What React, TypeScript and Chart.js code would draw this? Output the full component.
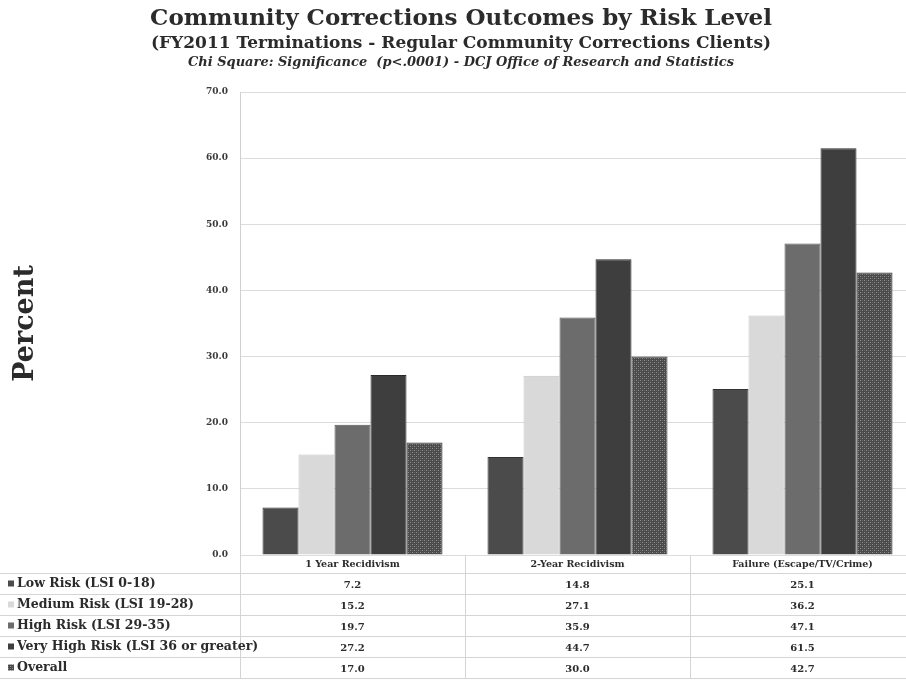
import React, { useEffect, useRef } from "react";
import { Chart, registerables } from "chart.js";
Chart.register(...registerables);

const categories = ["1 Year Recidivism", "2-Year Recidivism", "Failure (Escape/TV/Crime)"];
const seriesNames = [
  "Low Risk (LSI 0-18)",
  "Medium Risk (LSI 19-28)",
  "High Risk (LSI 29-35)",
  "Very High Risk (LSI 36 or greater)",
  "Overall",
];
const lowRisk = [7.2, 14.8, 25.1];
const mediumRisk = [15.2, 27.1, 36.2];
const highRisk = [19.7, 35.9, 47.1];
const veryHighRisk = [27.2, 44.7, 61.5];
const overall = [17.0, 30.0, 42.7];
const yTicks = [0, 10, 20, 30, 40, 50, 60, 70];

const titleLines = [
  "Community Corrections Outcomes by Risk Level",
  "(FY2011 Terminations - Regular Community Corrections Clients)",
  "Chi Square: Significance  (p<.0001) - DCJ Office of Research and Statistics",
];

const SERIF = "'DejaVu Serif', 'Liberation Serif', serif";
const CANVAS_W = 916;
const CANVAS_H = 680;

function makePattern(): CanvasPattern | string {
  const c = document.createElement("canvas");
  c.width = 4;
  c.height = 4;
  const g = c.getContext("2d");
  if (!g) return "#555";
  g.fillStyle = "#4a4a4a";
  g.fillRect(0, 0, 4, 4);
  g.fillStyle = "#909090";
  g.fillRect(0, 0, 1, 1);
  g.fillRect(2, 2, 1, 1);
  g.fillStyle = "#676767";
  g.fillRect(2, 0, 1, 1);
  g.fillRect(0, 2, 1, 1);
  const p = g.createPattern(c, "repeat");
  return p || "#555";
}

export default function App() {
  const ref = useRef<HTMLCanvasElement>(null);

  useEffect(() => {
    document.body.style.margin = "0";
    const canvas = ref.current;
    if (!canvas) return;
    const pattern = makePattern();
    const colors: any[] = ["#4b4b4b", "#d9d9d9", "#6c6c6c", "#3e3e3e", pattern];
    const borders = ["#333", "#c4c4c4", "#555", "#2a2a2a", "#3a3a3a"];
    const values = [lowRisk, mediumRisk, highRisk, veryHighRisk, overall];

    const headerPlugin = {
      id: "headerAndTable",
      afterDraw(chart: any) {
        const ctx = chart.ctx as CanvasRenderingContext2D;
        const ca = chart.chartArea;
        const xs = chart.scales.x;
        ctx.save();
        // titles
        ctx.fillStyle = "#2b2b2b";
        ctx.textAlign = "center";
        ctx.textBaseline = "middle";
        ctx.font = `bold 23px ${SERIF}`;
        ctx.fillText(titleLines[0], 461, 19);
        ctx.font = `bold 17px ${SERIF}`;
        ctx.fillText(titleLines[1], 461, 44);
        ctx.font = `italic bold 13px ${SERIF}`;
        ctx.fillText(titleLines[2], 461, 63);

        // table
        const headerBottom = ca.bottom + 18;
        const rowH = 21;
        const n = seriesNames.length;
        ctx.strokeStyle = "#d4d4d4";
        ctx.lineWidth = 1;
        for (let i = 0; i <= n; i++) {
          const y = Math.round(headerBottom + i * rowH) + 0.5;
          ctx.beginPath();
          ctx.moveTo(0, y);
          ctx.lineTo(CANVAS_W, y);
          ctx.stroke();
        }
        const catW = (ca.right - ca.left) / categories.length;
        for (let j = 0; j <= categories.length; j++) {
          const x = Math.round(ca.left + j * catW) + 0.5;
          ctx.beginPath();
          ctx.moveTo(x, ca.bottom);
          ctx.lineTo(x, headerBottom + n * rowH);
          ctx.stroke();
        }
        for (let i = 0; i < n; i++) {
          const cy = headerBottom + i * rowH + rowH / 2;
          ctx.fillStyle = colors[i];
          ctx.fillRect(8, cy - 3, 6, 6);
          ctx.fillStyle = "#2b2b2b";
          ctx.textAlign = "left";
          ctx.font = `bold 12.5px ${SERIF}`;
          ctx.fillText(seriesNames[i], 17, cy);
          ctx.textAlign = "center";
          ctx.font = `bold 10px ${SERIF}`;
          for (let j = 0; j < categories.length; j++) {
            ctx.fillText(values[i][j].toFixed(1), xs.getPixelForValue(j), cy + 2);
          }
        }
        ctx.restore();
      },
    };

    const chart = new Chart(canvas, {
      type: "bar",
      data: {
        labels: categories,
        datasets: seriesNames.map((name, i) => ({
          label: name,
          data: values[i],
          backgroundColor: colors[i],
          borderColor: borders[i],
          borderWidth: 1,
          categoryPercentage: 0.8,
          barPercentage: 1.0,
        })),
      },
      options: {
        responsive: false,
        animation: false,
        devicePixelRatio: 1,
        layout: { padding: { top: 92, right: 1, left: 0, bottom: 0 } },
        plugins: {
          legend: { display: false },
          title: { display: false },
          tooltip: { enabled: false },
        },
        scales: {
          x: {
            grid: { display: false, drawTicks: false },
            border: { display: false },
            ticks: {
              color: "#2b2b2b",
              font: { family: SERIF, size: 9.5, weight: "bold" },
              padding: 4,
              maxRotation: 0,
            },
            afterFit: (s: any) => {
              s.height = 125;
            },
          },
          y: {
            min: 0,
            max: 70,
            afterBuildTicks: (s: any) => {
              s.ticks = yTicks.map((v) => ({ value: v }));
            },
            ticks: {
              color: "#3a3a3a",
              font: { family: SERIF, size: 9, weight: "bold" },
              padding: 12,
              callback: (v: any) => Number(v).toFixed(1),
            },
            grid: { color: "#dcdcdc", drawTicks: false },
            border: { display: true, color: "#d0d0d0" },
            title: {
              display: true,
              text: "Percent",
              color: "#2b2b2b",
              font: { family: SERIF, size: 27, weight: "bold" },
              padding: { top: 10, bottom: 0 },
            },
            afterFit: (s: any) => {
              s.width = 240;
            },
          },
        },
      },
      plugins: [headerPlugin],
    } as any);

    return () => {
      chart.destroy();
    };
  }, []);

  return (
    <div style={{ width: 906, height: 680, overflow: "hidden", background: "#fff" }}>
      <canvas ref={ref} width={CANVAS_W} height={CANVAS_H} style={{ display: "block" }} />
    </div>
  );
}
